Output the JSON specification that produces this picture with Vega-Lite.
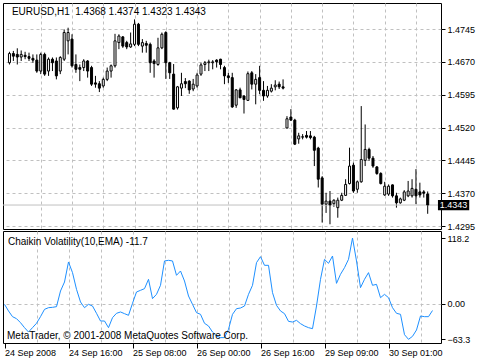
{
  "$schema": "https://vega.github.io/schema/vega-lite/v6.json",
  "background": "white",
  "padding": {"left": 2, "top": 2, "right": 0, "bottom": 0},
  "spacing": 2,
  "bounds": "flush",
  "config": {
    "view": {"stroke": "black", "strokeWidth": 1, "fill": "white"},
    "axis": {"labelFont": "Liberation Sans", "labelFontSize": 9, "labelColor": "black", "tickColor": "black", "tickSize": 4, "gridColor": "#c0c0c0", "gridDash": [3, 3], "gridWidth": 1, "domain": false, "title": null, "labelOverlap": false, "tickCount": 40},
    "text": {"font": "Liberation Sans", "fontSize": 10}
  },
  "datasets": {
    "candles": [
      {"i":0,"o":1.4668,"h":1.4693,"l":1.4664,"c":1.4689},
      {"i":1,"o":1.4689,"h":1.4695,"l":1.4672,"c":1.4683},
      {"i":2,"o":1.4687,"h":1.4701,"l":1.4664,"c":1.4681},
      {"i":3,"o":1.4681,"h":1.4696,"l":1.4672,"c":1.4687},
      {"i":4,"o":1.4685,"h":1.4693,"l":1.4676,"c":1.4682},
      {"i":5,"o":1.4682,"h":1.4691,"l":1.4672,"c":1.4678},
      {"i":6,"o":1.4678,"h":1.4687,"l":1.4668,"c":1.4674},
      {"i":7,"o":1.4674,"h":1.4687,"l":1.4645,"c":1.4649},
      {"i":8,"o":1.4649,"h":1.4691,"l":1.4642,"c":1.4687},
      {"i":9,"o":1.4687,"h":1.4691,"l":1.4638,"c":1.4642},
      {"i":10,"o":1.4649,"h":1.4680,"l":1.4638,"c":1.4676},
      {"i":11,"o":1.4676,"h":1.4680,"l":1.4649,"c":1.4668},
      {"i":12,"o":1.4672,"h":1.4680,"l":1.4630,"c":1.4638},
      {"i":13,"o":1.4649,"h":1.4683,"l":1.4642,"c":1.4680},
      {"i":14,"o":1.4676,"h":1.4744,"l":1.4672,"c":1.4737},
      {"i":15,"o":1.4718,"h":1.4748,"l":1.4687,"c":1.4737},
      {"i":16,"o":1.4722,"h":1.4733,"l":1.4657,"c":1.4661},
      {"i":17,"o":1.4664,"h":1.4687,"l":1.4645,"c":1.4653},
      {"i":18,"o":1.4657,"h":1.4664,"l":1.4626,"c":1.4653},
      {"i":19,"o":1.4657,"h":1.4676,"l":1.4649,"c":1.4672},
      {"i":20,"o":1.4672,"h":1.4674,"l":1.4634,"c":1.4649},
      {"i":21,"o":1.4657,"h":1.4661,"l":1.4615,"c":1.4619},
      {"i":22,"o":1.4622,"h":1.4638,"l":1.4611,"c":1.4619},
      {"i":23,"o":1.4620,"h":1.4626,"l":1.4601,"c":1.4610},
      {"i":24,"o":1.4615,"h":1.4634,"l":1.4611,"c":1.4630},
      {"i":25,"o":1.4630,"h":1.4657,"l":1.4626,"c":1.4649},
      {"i":26,"o":1.4649,"h":1.4664,"l":1.4634,"c":1.4661},
      {"i":27,"o":1.4661,"h":1.4734,"l":1.4657,"c":1.4718},
      {"i":28,"o":1.4714,"h":1.4733,"l":1.4699,"c":1.4729},
      {"i":29,"o":1.4727,"h":1.4729,"l":1.4702,"c":1.4706},
      {"i":30,"o":1.4714,"h":1.4718,"l":1.4699,"c":1.4704},
      {"i":31,"o":1.4704,"h":1.4737,"l":1.4702,"c":1.4711},
      {"i":32,"o":1.4710,"h":1.4767,"l":1.4706,"c":1.4756},
      {"i":33,"o":1.4756,"h":1.4759,"l":1.4706,"c":1.4710},
      {"i":34,"o":1.4706,"h":1.4722,"l":1.4691,"c":1.4714},
      {"i":35,"o":1.4712,"h":1.4718,"l":1.4691,"c":1.4708},
      {"i":36,"o":1.4710,"h":1.4714,"l":1.4645,"c":1.4668},
      {"i":37,"o":1.4672,"h":1.4676,"l":1.4634,"c":1.4666},
      {"i":38,"o":1.4664,"h":1.4725,"l":1.4661,"c":1.4702},
      {"i":39,"o":1.4702,"h":1.4737,"l":1.4699,"c":1.4733},
      {"i":40,"o":1.4737,"h":1.4740,"l":1.4631,"c":1.4668},
      {"i":41,"o":1.4668,"h":1.4670,"l":1.4631,"c":1.4645},
      {"i":42,"o":1.4642,"h":1.4665,"l":1.4561,"c":1.4562},
      {"i":43,"o":1.4565,"h":1.4615,"l":1.4561,"c":1.4613},
      {"i":44,"o":1.4610,"h":1.4645,"l":1.4592,"c":1.4620},
      {"i":45,"o":1.4625,"h":1.4633,"l":1.4610,"c":1.4620},
      {"i":46,"o":1.4626,"h":1.4628,"l":1.4597,"c":1.4606},
      {"i":47,"o":1.4608,"h":1.4631,"l":1.4603,"c":1.4619},
      {"i":48,"o":1.4615,"h":1.4645,"l":1.4611,"c":1.4640},
      {"i":49,"o":1.4642,"h":1.4668,"l":1.4638,"c":1.4663},
      {"i":50,"o":1.4664,"h":1.4672,"l":1.4649,"c":1.4668},
      {"i":51,"o":1.4668,"h":1.4675,"l":1.4649,"c":1.4670},
      {"i":52,"o":1.4668,"h":1.4674,"l":1.4653,"c":1.4670},
      {"i":53,"o":1.4674,"h":1.4676,"l":1.4657,"c":1.4670},
      {"i":54,"o":1.4676,"h":1.4677,"l":1.4653,"c":1.4664},
      {"i":55,"o":1.4657,"h":1.4661,"l":1.4619,"c":1.4638},
      {"i":56,"o":1.4638,"h":1.4645,"l":1.4622,"c":1.4634},
      {"i":57,"o":1.4634,"h":1.4645,"l":1.4565,"c":1.4567},
      {"i":58,"o":1.4571,"h":1.4608,"l":1.4565,"c":1.4606},
      {"i":59,"o":1.4606,"h":1.4611,"l":1.4587,"c":1.4588},
      {"i":60,"o":1.4592,"h":1.4594,"l":1.4552,"c":1.4584},
      {"i":61,"o":1.4582,"h":1.4648,"l":1.4581,"c":1.4643},
      {"i":62,"o":1.4645,"h":1.4649,"l":1.4607,"c":1.4619},
      {"i":63,"o":1.4619,"h":1.4642,"l":1.4573,"c":1.4630},
      {"i":64,"o":1.4634,"h":1.4661,"l":1.4596,"c":1.4605},
      {"i":65,"o":1.4605,"h":1.4626,"l":1.4581,"c":1.4592},
      {"i":66,"o":1.4592,"h":1.4615,"l":1.4588,"c":1.4605},
      {"i":67,"o":1.4603,"h":1.4619,"l":1.4600,"c":1.4610},
      {"i":68,"o":1.4613,"h":1.4628,"l":1.4605,"c":1.4617},
      {"i":69,"o":1.4619,"h":1.4625,"l":1.4608,"c":1.4613},
      {"i":70,"o":1.4613,"h":1.4630,"l":1.4607,"c":1.4610},
      {"i":71,"o":1.4519,"h":1.4546,"l":1.4518,"c":1.4540},
      {"i":72,"o":1.4544,"h":1.4562,"l":1.4535,"c":1.4537},
      {"i":73,"o":1.4537,"h":1.4540,"l":1.4480,"c":1.4482},
      {"i":74,"o":1.4494,"h":1.4508,"l":1.4483,"c":1.4501},
      {"i":75,"o":1.4498,"h":1.4505,"l":1.4493,"c":1.4499},
      {"i":76,"o":1.4502,"h":1.4512,"l":1.4495,"c":1.4498},
      {"i":77,"o":1.4501,"h":1.4512,"l":1.4493,"c":1.4497},
      {"i":78,"o":1.4498,"h":1.4501,"l":1.4432,"c":1.4468},
      {"i":79,"o":1.4473,"h":1.4476,"l":1.4383,"c":1.4402},
      {"i":80,"o":1.4405,"h":1.4409,"l":1.4303,"c":1.4345},
      {"i":81,"o":1.4345,"h":1.4371,"l":1.4325,"c":1.4352},
      {"i":82,"o":1.4352,"h":1.4375,"l":1.4299,"c":1.4343},
      {"i":83,"o":1.4346,"h":1.4356,"l":1.4339,"c":1.4354},
      {"i":84,"o":1.4337,"h":1.4360,"l":1.4314,"c":1.4354},
      {"i":85,"o":1.4354,"h":1.4371,"l":1.4352,"c":1.4365},
      {"i":86,"o":1.4365,"h":1.4402,"l":1.4364,"c":1.4390},
      {"i":87,"o":1.4392,"h":1.4474,"l":1.4390,"c":1.4432},
      {"i":88,"o":1.4434,"h":1.4440,"l":1.4371,"c":1.4375},
      {"i":89,"o":1.4379,"h":1.4399,"l":1.4371,"c":1.4396},
      {"i":90,"o":1.4396,"h":1.4569,"l":1.4394,"c":1.4447},
      {"i":91,"o":1.4445,"h":1.4527,"l":1.4432,"c":1.4470},
      {"i":92,"o":1.4470,"h":1.4474,"l":1.4444,"c":1.4450},
      {"i":93,"o":1.4450,"h":1.4455,"l":1.4428,"c":1.4432},
      {"i":94,"o":1.4430,"h":1.4432,"l":1.4412,"c":1.4415},
      {"i":95,"o":1.4415,"h":1.4418,"l":1.4390,"c":1.4392},
      {"i":96,"o":1.4366,"h":1.4396,"l":1.4364,"c":1.4386},
      {"i":97,"o":1.4368,"h":1.4390,"l":1.4364,"c":1.4386},
      {"i":98,"o":1.4389,"h":1.4390,"l":1.4360,"c":1.4364},
      {"i":99,"o":1.4364,"h":1.4371,"l":1.4337,"c":1.4348},
      {"i":100,"o":1.4348,"h":1.4360,"l":1.4346,"c":1.4357},
      {"i":101,"o":1.4354,"h":1.4377,"l":1.4352,"c":1.4373},
      {"i":102,"o":1.4364,"h":1.4398,"l":1.4361,"c":1.4375},
      {"i":103,"o":1.4364,"h":1.4402,"l":1.4360,"c":1.4381},
      {"i":104,"o":1.4379,"h":1.4425,"l":1.4345,"c":1.4364},
      {"i":105,"o":1.4373,"h":1.4394,"l":1.4360,"c":1.4366},
      {"i":106,"o":1.4373,"h":1.4377,"l":1.4360,"c":1.4370},
      {"i":107,"o":1.4368,"h":1.4374,"l":1.4323,"c":1.4343}
    ],
    "cv": [
      {"i":0,"v":-0.6},{"i":1,"v":-12.5},{"i":2,"v":-22.7},{"i":3,"v":-26.3},{"i":4,"v":-33.5},
      {"i":5,"v":-42.4},{"i":6,"v":-50.2},{"i":7,"v":-42.4},{"i":8,"v":-34.6},{"i":9,"v":-22.7},
      {"i":10,"v":-9.6},{"i":11,"v":-6.6},{"i":12,"v":-6.0},{"i":13,"v":-4.8},{"i":14,"v":23.3},
      {"i":15,"v":39.4},{"i":16,"v":75.3},{"i":17,"v":56.2},{"i":18,"v":26.3},{"i":19,"v":3.6},
      {"i":20,"v":-6.6},{"i":21,"v":-0.6},{"i":22,"v":-3.6},{"i":23,"v":-16.7},{"i":24,"v":-30.5},
      {"i":25,"v":-30.5},{"i":26,"v":-42.4},{"i":27,"v":-24.5},{"i":28,"v":-16.7},{"i":29,"v":-14.3},
      {"i":30,"v":-17.3},{"i":31,"v":-20.3},{"i":32,"v":1.2},{"i":33,"v":21.5},{"i":34,"v":24.5},
      {"i":35,"v":27.5},{"i":36,"v":44.2},{"i":37,"v":9.6},{"i":38,"v":17.3},{"i":39,"v":33.5},
      {"i":40,"v":77.1},{"i":41,"v":78.3},{"i":42,"v":77.1},{"i":43,"v":51.4},{"i":44,"v":59.1},
      {"i":45,"v":41.2},{"i":46,"v":14.3},{"i":47,"v":-0.6},{"i":48,"v":-15.5},{"i":49,"v":-18.5},
      {"i":50,"v":-34.6},{"i":51,"v":-39.4},{"i":52,"v":-50.2},{"i":53,"v":-57.3},{"i":54,"v":-60.3},
      {"i":55,"v":-60.3},{"i":56,"v":-45.4},{"i":57,"v":-18.5},{"i":58,"v":-8.4},{"i":59,"v":-7.2},
      {"i":60,"v":-3.6},{"i":61,"v":17.3},{"i":62,"v":33.5},{"i":63,"v":74.1},{"i":64,"v":84.8},
      {"i":65,"v":69.3},{"i":66,"v":69.3},{"i":67,"v":20.3},{"i":68,"v":-2.4},{"i":69,"v":-12.5},
      {"i":70,"v":-17.3},{"i":71,"v":-31.1},{"i":72,"v":-32.3},{"i":73,"v":-29.3},{"i":74,"v":-35.2},
      {"i":75,"v":-39.4},{"i":76,"v":-42.4},{"i":77,"v":-44.2},{"i":78,"v":-3.6},{"i":79,"v":44.2},
      {"i":80,"v":80.0},{"i":81,"v":72.9},{"i":82,"v":86.0},{"i":83,"v":37.0},{"i":84,"v":53.2},
      {"i":85,"v":65.1},{"i":86,"v":80.0},{"i":87,"v":118.2},{"i":88,"v":77.1},{"i":89,"v":29.3},
      {"i":90,"v":44.2},{"i":91,"v":56.2},{"i":92,"v":33.5},{"i":93,"v":35.2},{"i":94,"v":11.3},
      {"i":95,"v":17.3},{"i":96,"v":11.3},{"i":97,"v":-6.6},{"i":98,"v":-16.7},{"i":99,"v":-18.5},
      {"i":100,"v":-55.0},{"i":101,"v":-63.3},{"i":102,"v":-58.0},{"i":103,"v":-46.6},{"i":104,"v":-21.5},
      {"i":105,"v":-22.7},{"i":106,"v":-22.7},{"i":107,"v":-11.7}
    ]
  },
  "vconcat": [
    {
      "width": 438,
      "height": 226,
      "layer": [
        {
          "data": {"name": "candles"},
          "mark": {"type": "rule", "color": "black", "strokeWidth": 1},
          "encoding": {
            "x": {"field": "i", "type": "quantitative", "scale": {"domain": [-0.375, 109.125], "nice": false, "zero": false},
                  "axis": {"values": [8,16,24,32,40,48,56,64,72,80,88,96,104], "tickCount": 40, "labels": false, "ticks": false, "grid": true}},
            "y": {"field": "l", "type": "quantitative", "scale": {"domain": [1.428825, 1.480443], "nice": false, "zero": false},
                  "axis": {"orient": "right", "values": [1.4295, 1.437, 1.4445, 1.452, 1.4595, 1.467, 1.4745], "tickCount": 40, "format": ".4f", "grid": true, "labelPadding": 2, "labelOverlap": false, "labelBound": false, "labelFlush": false}},
            "y2": {"field": "h"}
          }
        },
        {
          "data": {"values": [{"p": 1.4343}]},
          "mark": {"type": "rule", "color": "#c0c0c0", "strokeWidth": 1},
          "encoding": {"y": {"field": "p", "type": "quantitative"}}
        },
        {
          "data": {"name": "candles"},
          "mark": {"type": "bar", "width": 2, "stroke": "black", "strokeWidth": 1},
          "encoding": {
            "x": {"field": "i", "type": "quantitative"},
            "y": {"field": "o", "type": "quantitative"},
            "y2": {"field": "c"},
            "fill": {"condition": {"test": "datum.c >= datum.o", "value": "white"}, "value": "black"}
          }
        },
        {
          "data": {"values": [{"p": 1.4343}]},
          "mark": {"type": "rect", "fill": "black", "clip": false},
          "encoding": {
            "x": {"datum": 109.625, "type": "quantitative"},
            "x2": {"datum": 117.625},
            "y": {"datum": 1.43545, "type": "quantitative"},
            "y2": {"datum": 1.4331}
          }
        },
        {
          "data": {"values": [{"p": 1.4343}]},
          "mark": {"type": "text", "color": "white", "align": "left", "baseline": "middle", "clip": false, "fontSize": 9},
          "encoding": {
            "x": {"datum": 110.1, "type": "quantitative"},
            "y": {"field": "p", "type": "quantitative"},
            "text": {"field": "p", "type": "quantitative", "format": ".4f"}
          }
        },
        {
          "data": {"values": [{"t": "EURUSD,H1\u00a0 1.4368 1.4374 1.4323 1.4343"}]},
          "mark": {"type": "text", "color": "black", "align": "left", "baseline": "alphabetic"},
          "encoding": {
            "x": {"datum": 0.625, "type": "quantitative"},
            "y": {"datum": 1.4777, "type": "quantitative"},
            "text": {"field": "t"}
          }
        }
      ]
    },
    {
      "width": 438,
      "height": 112,
      "layer": [
        {
          "data": {"name": "cv"},
          "mark": {"type": "line", "color": "#1e90ff", "strokeWidth": 1},
          "encoding": {
            "x": {"field": "i", "type": "quantitative", "scale": {"domain": [-0.375, 109.125], "nice": false, "zero": false},
                  "axis": {"values": [0,8,16,24,32,40,48,56,64,72,80,88,96,104], "tickCount": 40, "grid": true, "tickSize": 5,
                           "gridOpacity": {"condition": {"test": "datum.value == 0", "value": 0}, "value": 1},
                           "tickOpacity": {"condition": {"test": "datum.value % 16 == 0", "value": 1}, "value": 0},
                           "labelAlign": "left", "labelPadding": 0, "labelFlush": false, "labelOverlap": false, "labelBound": false,
                           "labelExpr": "datum.value == 0 ? '24 Sep 2008' : datum.value == 16 ? '24 Sep 16:00' : datum.value == 32 ? '25 Sep 08:00' : datum.value == 48 ? '26 Sep 00:00' : datum.value == 64 ? '26 Sep 16:00' : datum.value == 80 ? '29 Sep 09:00' : datum.value == 96 ? '30 Sep 01:00' : ''"}},
            "y": {"field": "v", "type": "quantitative", "scale": {"domain": [-69.9, 130.8], "nice": false, "zero": false},
                  "axis": {"orient": "right", "values": [118.2, 0, -63.3], "tickCount": 40, "grid": true, "labelPadding": 2, "labelOverlap": false, "labelBound": false, "labelFlush": false,
                           "gridOpacity": {"condition": {"test": "datum.value == 0", "value": 1}, "value": 0},
                           "labelExpr": "datum.value == 0 ? '0.00' : format(datum.value, '.1f')"}}
          }
        },
        {
          "data": {"values": [{"t": "Chaikin Volatility(10,EMA) -11.7"}]},
          "mark": {"type": "text", "color": "black", "align": "left", "baseline": "alphabetic"},
          "encoding": {
            "x": {"datum": 0.875, "type": "quantitative"},
            "y": {"datum": 105.7, "type": "quantitative"},
            "text": {"field": "t"}
          }
        },
        {
          "data": {"values": [{"t": "MetaTrader, © 2001-2008 MetaQuotes Software Corp."}]},
          "mark": {"type": "text", "color": "black", "align": "left", "baseline": "alphabetic"},
          "encoding": {
            "x": {"datum": 0.625, "type": "quantitative"},
            "y": {"datum": -62.7, "type": "quantitative"},
            "text": {"field": "t"}
          }
        }
      ]
    }
  ]
}
